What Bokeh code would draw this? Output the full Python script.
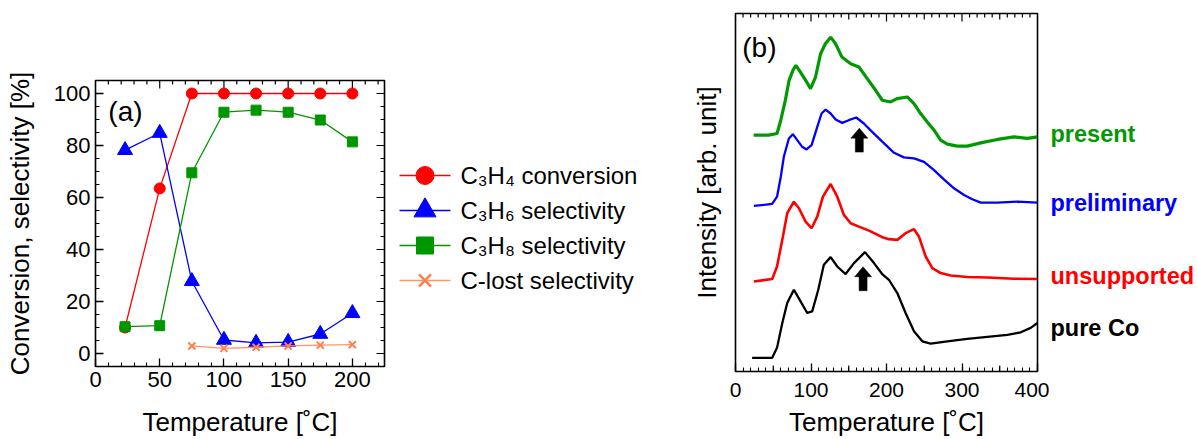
import numpy as np
from bokeh.plotting import figure
from bokeh.models import Range1d, SingleIntervalTicker, FixedTicker, Label, ColumnDataSource
from bokeh.core.properties import value
from bokeh.embed import file_html
from bokeh.resources import INLINE

FONT = "Liberation Sans"

# ---------------- panel (a) data ----------------
temps_a = [23, 50, 75, 100, 125, 150, 175, 200]
c3h4_conversion = [10.0, 63.5, 100, 100, 100, 100, 100, 100]
c3h6_selectivity = [78.2, 84.8, 27.8, 5.2, 4.1, 4.4, 7.5, 15.5]
c3h8_selectivity = [10.3, 10.7, 69.5, 92.8, 93.6, 92.8, 89.8, 81.4]
temps_clost = [75, 100, 125, 150, 175, 200]
c_lost_selectivity = [2.9, 2.0, 2.4, 2.9, 3.2, 3.4]
legend_labels = ["C\u2083H\u2084 conversion", "C\u2083H\u2086 selectivity",
                 "C\u2083H\u2088 selectivity", "C-lost selectivity"]

# ---------------- panel (b) data ----------------
present_T = [24, 44, 55, 60, 66, 71, 76, 80, 86, 93, 99.4, 106, 112.7, 119, 126, 132.6,
             141, 152.5, 163.5, 174.5, 185.6, 194.4, 205.5, 214, 227.6, 236.4, 245.2,
             254, 263, 271.7, 280.6, 293.8, 307, 324.8, 346.9, 369, 386.6, 400]
present_I = [237, 237, 238.7, 252, 272, 292, 302, 307, 300.3, 292, 283.7, 295.3, 318.7,
             328.7, 335.3, 328.7, 315.3, 308.7, 305.3, 293.7, 282, 272, 270.3, 273.7,
             275.3, 268.7, 258.7, 250.3, 242, 232, 228, 226, 226, 229.3, 232.7, 235.3,
             233.7, 235.3]

preliminary_T = [24.3, 48.6, 55, 60, 64, 70.7, 76, 81.8, 88.4, 94, 100.8, 108.3, 114,
                 119.3, 126, 132.6, 141.4, 150, 160, 170, 181, 194.4, 210, 223, 236.4,
                 249.7, 263, 276, 289.4, 302.7, 313.7, 324.8, 346.9, 373.4, 400]
preliminary_I = [166, 168, 175.3, 195.3, 215.3, 233.7, 238, 232, 225.3, 222.7, 227,
                 245.3, 258.7, 262.7, 258.7, 252.7, 249.3, 252, 254.7, 248.7, 240.3,
                 230.5, 219.3, 214.7, 213.7, 210.3, 202, 192.7, 183.7, 177, 172.7, 169.3,
                 169.3, 170.3, 169.3]

unsupported_T = [24.3, 48.6, 55, 62, 68.5, 77.3, 84, 92.8, 100.8, 108.3, 115.8, 126,
                 134.8, 143.6, 152.5, 163.5, 176.8, 194.4, 203.2, 214.3, 225.3, 236.4,
                 243, 251.9, 260.7, 271.7, 285, 307, 333.6, 369, 400]
unsupported_I = [90.3, 92.7, 105.3, 132, 158.7, 170.3, 163.7, 150.3, 143.7, 155.3, 175.3,
                 188, 175.3, 157, 148.7, 145.3, 141.3, 134.7, 132.7, 132, 138.7, 142.7,
                 135.3, 115.3, 103.7, 98.7, 96.3, 94.7, 94.3, 93, 92.7]

pure_co_T = [22, 48.6, 55, 62, 68.5, 77.3, 86.2, 95, 101.6, 109.6, 117, 126, 134.8,
             145.8, 156.9, 171.5, 183.4, 194, 203.2, 214.3, 225.3, 236.4, 247.4, 258.5,
             280.6, 307, 333.6, 360.1, 377.8, 391, 400]
pure_co_I = [13.7, 13.7, 23.7, 48.7, 68.7, 82, 70.3, 58.7, 60.3, 82, 107, 114.7, 105.3,
             97.7, 108.7, 119.7, 108.7, 98, 92, 78.7, 58.7, 40.3, 30.3, 28, 30.3, 32.7,
             34.7, 36.7, 39.3, 43.7, 48.7]

sample_names = ["present", "preliminary", "unsupported", "pure Co"]
sample_label_I = [239, 170, 97, 45]
arrow_T = [164, 169]
arrow_tip_I = [244, 105]

RED, BLUE, GREEN, ORANGE = "#ff0000", "#0000ff", "#009600", "#ff7f50"
B_GREEN = "#009a00"

H = 439


def style_axis(ax, major_in, minor_in, label_px):
    ax.major_tick_in = major_in
    ax.major_tick_out = 0
    ax.minor_tick_in = minor_in
    ax.minor_tick_out = 0
    ax.major_tick_line_color = "black"
    ax.minor_tick_line_color = "black"
    ax.major_tick_line_width = 1.3
    ax.minor_tick_line_width = 1.1
    ax.axis_line_color = None
    ax.major_label_text_font = FONT
    ax.major_label_text_color = "black"
    ax.major_label_text_font_size = label_px
    ax.axis_label_text_font = FONT
    ax.axis_label_text_font_style = "normal"
    ax.axis_label_text_font_size = "26px"
    ax.axis_label_text_color = "black"


def edge_ticks(fig, lo, hi, step, major_every, edge, inward, major_px, minor_px,
               px_per_unit, horizontal, mid_every=None, mid_px=None):
    """Mirror tick marks drawn along a frame edge (top or right)."""
    pos = np.arange(lo, hi + step / 2.0, step)
    lens = []
    for v in pos:
        if abs(v / major_every - round(v / major_every)) < 1e-6:
            lens.append(major_px)
        elif mid_every and abs(v / mid_every - round(v / mid_every)) < 1e-6:
            lens.append(mid_px)
        else:
            lens.append(minor_px)
    ends = [edge + inward * l / px_per_unit for l in lens]
    if horizontal:
        fig.segment(x0=pos, y0=edge, x1=pos, y1=ends, line_color="black", line_width=1.2)
    else:
        fig.segment(x0=edge, y0=pos, x1=ends, y1=pos, line_color="black", line_width=1.2)


def blank_fig(width, xr, yr, top=0, bottom=0):
    f = figure(width=width, height=H, x_range=xr, y_range=yr,
               x_axis_type=None, y_axis_type=None, output_backend="svg",
               toolbar_location=None, min_border_left=0, min_border_right=0,
               min_border_top=top, min_border_bottom=bottom)
    f.outline_line_color = None
    f.grid.visible = False
    return f


# ================= panel (a) =================
XA, YA = (0, 225), (-5, 105)
p1 = figure(width=390, height=H, x_range=Range1d(*XA), y_range=Range1d(*YA),
            output_backend="svg", toolbar_location=None,
            min_border_left=95, min_border_right=6, min_border_top=80, min_border_bottom=70)
p1.xgrid.visible = False
p1.ygrid.visible = False
p1.outline_line_color = "black"
p1.outline_line_width = 1.6
p1.outline_line_alpha = 1

p1.xaxis.ticker = SingleIntervalTicker(interval=50, num_minor_ticks=5)
p1.yaxis.ticker = SingleIntervalTicker(interval=20, num_minor_ticks=4)
for ax in p1.xaxis + p1.yaxis:
    style_axis(ax, 8, 4, "22px")
p1.xaxis.axis_label = "Temperature [\u02daC]"
p1.yaxis.axis_label = "Conversion, selectivity [%]"
p1.xaxis.major_label_standoff = 5
p1.xaxis.axis_label_standoff = 17
p1.yaxis.major_label_standoff = 5
p1.yaxis.axis_label_standoff = 16

fw_a = 289.0
edge_ticks(p1, 10, 220, 10, 50, YA[1], -1, 8, 4, fw_a / (YA[1] - YA[0]), True)
edge_ticks(p1, 0, 100, 5, 20, XA[1], -1, 8, 4, fw_a / (XA[1] - XA[0]), False)

# legend canvas to the right of panel a (screen-pixel coordinates, y downwards)
pL = blank_fig(296, Range1d(0, 296), Range1d(H, 0))
LEG_TOP, LEG_PITCH = 175, 35
LEG_X0, LEG_X1, LEG_TX = 9, 60, 70

series = [
    (temps_a, c3h4_conversion, RED, RED, "circle", 11, 18),
    (temps_a, c3h6_selectivity, BLUE, BLUE, "triangle", 15, 22),
    (temps_a, c3h8_selectivity, GREEN, GREEN, "square", 10, 17),
    (temps_clost, c_lost_selectivity, "#ff9466", ORANGE, "x", 10, 17),
]
for k, ((xs, ys, lc, mc, mk, sz, lsz), lab) in enumerate(zip(series, legend_labels)):
    p1.line(xs, ys, line_color=lc, line_width=1.3)
    if mk == "x":
        p1.scatter(xs, ys, marker=mk, size=sz, line_color=mc, line_width=2)
    else:
        p1.scatter(xs, ys, marker=mk, size=sz, fill_color=mc, line_color=mc)
    # legend entry
    ry = LEG_TOP + k * LEG_PITCH
    pL.segment(x0=LEG_X0, y0=ry, x1=LEG_X1, y1=ry, line_color=lc, line_width=1.6)
    xm = (LEG_X0 + LEG_X1) / 2.0
    if mk == "x":
        pL.scatter(x=xm, y=ry, marker=mk, size=lsz, line_color=mc, line_width=2.5)
    else:
        pL.scatter(x=xm, y=ry, marker=mk, size=lsz, fill_color=mc, line_color=mc)
    pL.text(x=LEG_TX, y=ry, text=[lab], text_font=value(FONT), text_font_size="24px",
            text_color="black", text_baseline="middle", text_align="left")

p1.add_layout(Label(x=10, y=93, text="(a)", text_font=FONT, text_font_size="28px",
                    text_baseline="middle", text_color="black"))

# ================= panel (b) =================
XB, YB = (0, 400), (0, 359)
p2 = figure(width=363, height=H, x_range=Range1d(*XB), y_range=Range1d(*YB),
            output_backend="svg", toolbar_location=None,
            min_border_left=49, min_border_right=12, min_border_top=13, min_border_bottom=67)
p2.xgrid.visible = False
p2.ygrid.visible = False
p2.outline_line_color = "black"
p2.outline_line_width = 1.6
p2.outline_line_alpha = 1

p2.xaxis.ticker = SingleIntervalTicker(interval=100, num_minor_ticks=10)
p2.yaxis.ticker = FixedTicker(ticks=[])
for ax in p2.xaxis + p2.yaxis:
    style_axis(ax, 8, 4, "21px")
p2.xaxis.axis_label = "Temperature [\u02daC]"
p2.yaxis.axis_label = "Intensity [arb. unit]"
p2.xaxis.major_label_standoff = 11
p2.xaxis.axis_label_standoff = 7
p2.yaxis.major_label_standoff = 0
p2.yaxis.axis_label_standoff = 14

fw_b = 302.0
fh_b = 359.0
edge_ticks(p2, 10, 390, 10, 100, YB[1], -1, 8, 4, fh_b / (YB[1] - YB[0]), True, 50, 6)
edge_ticks(p2, 50, 350, 100, 100, YB[0], 1, 6, 6, fh_b / (YB[1] - YB[0]), True)

p2.line(pure_co_T, pure_co_I, line_color="black", line_width=2.3)
p2.line(unsupported_T, unsupported_I, line_color=RED, line_width=2.6)
p2.line(preliminary_T, preliminary_I, line_color=BLUE, line_width=2.3)
p2.line(present_T, present_I, line_color=B_GREEN, line_width=3.2)

# block arrows (shape in screen pixels, anchored at the data positions)
px_per_T = fw_b / (XB[1] - XB[0])
shape = [(0, 0), (8.5, 10), (4, 10), (4, 24), (-4, 24), (-4, 10), (-8.5, 10)]
axs, ays = [], []
for t, tip in zip(arrow_T, arrow_tip_I):
    axs.append([t + dx / px_per_T for dx, dy in shape])
    ays.append([tip - dy for dx, dy in shape])
p2.patches(axs, ays, fill_color="black", line_color="black", line_width=0.5)

p2.add_layout(Label(x=9, y=325, text="(b)", text_font=FONT, text_font_size="28px",
                    text_baseline="middle", text_color="black"))

# sample names (separate canvas to the right of panel b, same vertical scale)
p3 = blank_fig(148, Range1d(0, 148), Range1d(*YB), top=13, bottom=67)
label_colors = [B_GREEN, BLUE, RED, "black"]
src3 = ColumnDataSource(data=dict(y=sample_label_I, name=sample_names, color=label_colors))
p3.text(x=1, y="y", text="name", text_color="color", source=src3,
        text_font=value(FONT), text_font_size="23.5px", text_font_style="bold",
        text_baseline="middle", text_align="left")

TEMPLATE = """
{% block preamble %}
<style>
html body { display: flex !important; flex-direction: row; align-items: flex-start;
            margin: 0 !important; padding: 0 !important; overflow: hidden; }
</style>
{% endblock %}
"""

open("out.html", "w").write(file_html([p1, pL, p2, p3], INLINE, template=TEMPLATE))
